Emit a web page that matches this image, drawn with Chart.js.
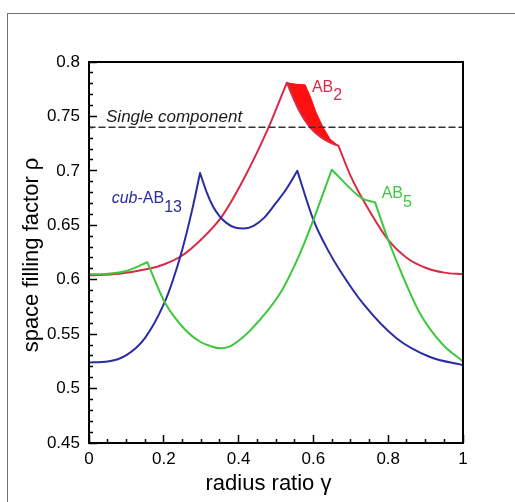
<!DOCTYPE html>
<html>
<head>
    <title>Space filling factor vs radius ratio</title>
    <script src="https://cdn.jsdelivr.net/npm/chart.js"></script>
    <style>
        html, body { margin: 0; padding: 0; background: #fff; overflow: hidden; }
        #wrap { position: relative; width: 515px; height: 502px; }
        #frame { position: absolute; left: 7px; top: 13px; width: 540px; height: 520px;
                 border-top: 1px solid #707070; border-left: 1px solid #707070; }
        #chart { position: absolute; left: 0; top: 0; }
    </style>
</head>
<body>
<div id="wrap">
    <div id="frame"></div>
    <canvas id="chart" width="515" height="502"></canvas>
</div>

<script>
// values; a null splits a curve at a cusp or kink
const ab2X = [0, 0.08, 0.159, 0.2, 0.248, 0.3, 0.355, 0.413, 0.479, 0.506, 0.529,
              0.529, 0.529, 0.545, 0.564, 0.591, 0.62, 0.645, 0.667,
              0.667, 0.667, 0.7, 0.74, 0.8, 0.85, 0.9, 0.95, 1];
const ab2Y = [0.604, 0.6055, 0.610, 0.614, 0.622, 0.637, 0.658, 0.692, 0.739, 0.7615, 0.781,
              null, 0.781, 0.768, 0.754, 0.740, 0.731, 0.726, 0.723,
              null, 0.723, 0.695, 0.669, 0.6365, 0.620, 0.611, 0.6065, 0.605];

// upper edge of the filled AB2 band
const ab2UpperX = [0.529, 0.555, 0.578, 0.592, 0.608, 0.626, 0.645, 0.667];
const ab2UpperY = [0.781, 0.7795, 0.779, 0.768, 0.753, 0.740, 0.729, 0.723];

const ab13X = [0, 0.05, 0.1, 0.15, 0.2, 0.225, 0.25, 0.275, 0.297,
               0.297, 0.297, 0.315, 0.332, 0.35, 0.368, 0.39, 0.413, 0.44, 0.47, 0.5, 0.53, 0.557,
               0.557, 0.557, 0.6, 0.64, 0.671, 0.733, 0.823, 0.912, 1];
const ab13Y = [0.524, 0.5248, 0.5307, 0.5466, 0.5775, 0.6002, 0.6285, 0.663, 0.698,
               null, 0.698, 0.680, 0.667, 0.658, 0.652, 0.648, 0.647, 0.6495, 0.6575, 0.6705, 0.6845, 0.700,
               null, 0.700, 0.655, 0.6265, 0.6085, 0.578, 0.546, 0.529, 0.5215];

const ab5X = [0, 0.05, 0.1, 0.156,
              0.156, 0.156, 0.203, 0.257, 0.297, 0.325, 0.35, 0.375, 0.4, 0.43, 0.511, 0.564, 0.6, 0.649,
              0.649, 0.649, 0.729, 0.765,
              0.765, 0.765, 0.8, 0.832, 0.885, 0.947, 1];
const ab5Y = [0.605, 0.6055, 0.608, 0.616,
              null, 0.616, 0.579, 0.554, 0.543, 0.539, 0.537, 0.5385, 0.544, 0.553, 0.5875, 0.624, 0.655, 0.701,
              null, 0.701, 0.675, 0.671,
              null, 0.671, 0.6365, 0.609, 0.569, 0.540, 0.525];

const singleX = [0, 1];
const singleY = [0.74, 0.74];

const xTicks = [0, 0.2, 0.4, 0.6, 0.8, 1];
const yTicks = [0.45, 0.5, 0.55, 0.6, 0.65, 0.7, 0.75, 0.8];

const RED = '#d82b45', BLUE = '#2b2ba3', GREEN = '#3cc83c';
const FONT = "'Liberation Sans', Arial, Helvetica, sans-serif";

function pts(xs, ys) {
    return xs.map((x, i) => ({ x: x, y: ys[i] }));
}
function steps(lo, hi, step) {
    const out = [];
    for (let v = lo; v <= hi + 1e-9; v += step) out.push(Math.round(v * 1000) / 1000);
    return out;
}
function isMajor(list, v) {
    return list.some(t => Math.abs(t - v) < 1e-6);
}

const xMinor = steps(0, 1, 0.05);
const yMinor = steps(0.45, 0.8, 0.01);

function drawRuns(ctx, x, y, parts) {
    parts.forEach(p => {
        ctx.font = p.font;
        ctx.fillStyle = p.color;
        ctx.fillText(p.text, x, y + (p.dy || 0));
        x += ctx.measureText(p.text).width;
    });
}

const decorations = {
    id: 'decorations',
    afterDatasetsDraw(chart) {
        const { ctx, chartArea: a, scales: { x, y } } = chart;
        ctx.save();
        ctx.strokeStyle = '#000';
        ctx.lineWidth = 2;
        ctx.strokeRect(a.left, a.top, a.right - a.left, a.bottom - a.top);

        ctx.textAlign = 'left';
        ctx.textBaseline = 'alphabetic';
        const f = 'px ' + FONT;

        drawRuns(ctx, x.getPixelForValue(0.0455), y.getPixelForValue(0.7449), [
            { text: 'Single component', font: 'italic 17' + f, color: '#1a1a1a' }
        ]);
        drawRuns(ctx, x.getPixelForValue(0.596), y.getPixelForValue(0.772), [
            { text: 'AB', font: '16' + f, color: RED },
            { text: '2', font: '16' + f, color: RED, dy: 7.5 }
        ]);
        drawRuns(ctx, x.getPixelForValue(0.0607), y.getPixelForValue(0.6708), [
            { text: 'cub', font: 'italic 16' + f, color: BLUE },
            { text: '-AB', font: '16' + f, color: BLUE },
            { text: '13', font: '16' + f, color: BLUE, dy: 9 }
        ]);
        drawRuns(ctx, x.getPixelForValue(0.7826), y.getPixelForValue(0.6748), [
            { text: 'AB', font: '16' + f, color: GREEN },
            { text: '5', font: '16' + f, color: GREEN, dy: 8.4 }
        ]);

        // axis titles
        ctx.fillStyle = '#000';
        ctx.font = '22' + f;
        ctx.textAlign = 'center';
        ctx.fillText('radius ratio \u03b3', 268.5, 490);
        ctx.translate(37.5, 255);
        ctx.rotate(-Math.PI / 2);
        ctx.fillText('space filling factor \u03c1', 0, 0);
        ctx.restore();
    }
};

const ctx = document.getElementById('chart');
const mychart = new Chart(ctx, {
    type: 'line',
    data: {
        datasets: [
            {
                label: 'Single component',
                data: pts(singleX, singleY),
                borderColor: '#333',
                borderWidth: 1.5,
                borderDash: [6, 4],
                cubicInterpolationMode: 'default',
                tension: 0,
                order: 1
            },
            {
                label: 'AB5',
                data: pts(ab5X, ab5Y),
                borderColor: GREEN,
                order: 2
            },
            {
                label: 'cub-AB13',
                data: pts(ab13X, ab13Y),
                borderColor: BLUE,
                order: 3
            },
            {
                label: 'AB2',
                data: pts(ab2X, ab2Y),
                borderColor: RED,
                order: 4
            },
            {
                label: 'AB2 band',
                data: pts(ab2UpperX, ab2UpperY),
                borderColor: '#ff1010',
                borderWidth: 1,
                backgroundColor: '#ff1010',
                cubicInterpolationMode: 'default',
                tension: 0,
                fill: 3,
                order: 5
            }
        ]
    },
    options: {
        responsive: false,
        animation: false,
        layout: { padding: { left: 0, top: 62, right: 52, bottom: 0 } },
        plugins: {
            legend: { display: false },
            tooltip: { enabled: false }
        },
        elements: {
            point: { radius: 0 },
            line: {
                borderWidth: 2,
                cubicInterpolationMode: 'monotone',
                borderCapStyle: 'round',
                borderJoinStyle: 'round',
                fill: false
            }
        },
        scales: {
            x: {
                type: 'linear',
                min: 0,
                max: 1,
                afterBuildTicks: s => { s.ticks = xMinor.map(v => ({ value: v })); },
                afterFit: s => { s.height = 59; },
                border: { display: false },
                grid: {
                    drawOnChartArea: false,
                    tickLength: -8,
                    tickWidth: 1.5,
                    tickColor: '#000',
                    tickBorderDash: c => (c.tick && !isMajor(xTicks, c.tick.value)) ? [4, 40] : []
                },
                ticks: {
                    autoSkip: false,
                    maxRotation: 0,
                    padding: 14,
                    color: '#000',
                    font: { family: FONT, size: 17 },
                    callback: v => isMajor(xTicks, v) ? String(v) : ''
                }
            },
            y: {
                type: 'linear',
                min: 0.45,
                max: 0.8,
                afterBuildTicks: s => { s.ticks = yMinor.map(v => ({ value: v })); },
                afterFit: s => { s.width = 89; },
                border: { display: false },
                grid: {
                    drawOnChartArea: false,
                    tickLength: -8,
                    tickWidth: 1.5,
                    tickColor: '#000',
                    // ticks on a left axis are stroked from the inner end, so skip 4px first
                    tickBorderDash: c => (c.tick && !isMajor(yTicks, c.tick.value)) ? [0, 4, 4, 40] : []
                },
                ticks: {
                    autoSkip: false,
                    padding: 17,
                    color: '#000',
                    font: { family: FONT, size: 17 },
                    callback: v => isMajor(yTicks, v) ? String(v) : ''
                }
            }
        }
    },
    plugins: [decorations]
});
</script>
</body>
</html>
